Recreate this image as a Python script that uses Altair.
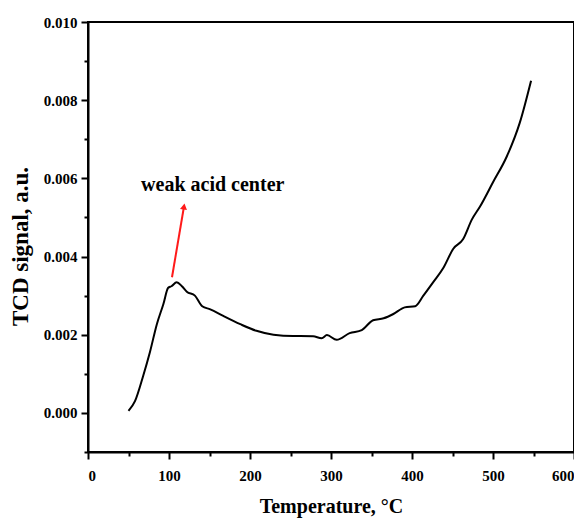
import altair as alt
import pandas as pd

# Curve (Temperature in °C, TCD signal in a.u.)
temps = [50, 58, 68, 76.5, 85, 93, 99, 103, 109.5, 116, 122, 132, 141, 151, 167,
         188, 208, 229, 253, 262, 278, 288.5, 295, 307, 323, 338, 352, 365, 377,
         391, 404, 414, 426, 439, 451, 463, 474, 484, 500, 517, 533, 547]
signal = [0.00005, 0.0003, 0.00094, 0.00156, 0.00227, 0.00278, 0.0032, 0.00324,
          0.00334, 0.00324, 0.0031, 0.003, 0.00273, 0.00265, 0.00248, 0.00227,
          0.0021, 0.002, 0.00197, 0.00197, 0.00196, 0.00191, 0.00199, 0.00187,
          0.00204, 0.00212, 0.00237, 0.00242, 0.00253, 0.0027, 0.00273, 0.003,
          0.00334, 0.00372, 0.0042, 0.00444, 0.00495, 0.00528, 0.0059, 0.00656,
          0.00742, 0.0085]

# Annotation
arrow_T = [103.7, 118.5]
arrow_v = [0.00347, 0.00528]
arrow_angle = [9.6]
label_text = ["weak acid center"]
label_T = [154]
label_v = [0.00584]

# Axis ticks (major + minor)
x_ticks = [0, 50, 100, 150, 200, 250, 300, 350, 400, 450, 500, 550, 600]
y_ticks = [-0.001, 0.0, 0.001, 0.002, 0.003, 0.004, 0.005, 0.006, 0.007,
           0.008, 0.009, 0.010]

curve = pd.DataFrame({"T": temps, "v": signal})
arrow = pd.DataFrame({"T": arrow_T, "v": arrow_v})
head = pd.DataFrame({"T": arrow_T[-1:], "v": arrow_v[-1:], "a": arrow_angle})
label = pd.DataFrame({"T": label_T, "v": label_v, "t": label_text})

FONT = "Liberation Serif"

x_axis = alt.Axis(
    values=x_ticks,
    labelExpr="datum.value % 100 === 0 ? datum.label : ''",
    tickSize={"condition": {"test": "datum.value % 100 === 0", "value": 7}, "value": 4},
    title="Temperature, °C",
    labelPadding=9,
    titlePadding=13,
    titleFontSize=20,
)
y_axis = alt.Axis(
    values=y_ticks,
    format=".3f",
    labelExpr="round(datum.value * 1000) % 2 === 0 ? datum.label : ''",
    tickSize={"condition": {"test": "round(datum.value * 1000) % 2 === 0", "value": 7}, "value": 4},
    title="TCD signal, a.u.",
    labelPadding=4,
    titleX=-56,
    titleY=224,
    titleFontSize=23,
)

x_enc = alt.X("T:Q", scale=alt.Scale(domain=[0, 600], nice=False, zero=False), axis=x_axis)
y_enc = alt.Y("v:Q", scale=alt.Scale(domain=[-0.001, 0.010], nice=False, zero=False), axis=y_axis)

line = alt.Chart(curve).mark_line(color="black", strokeWidth=2, interpolate="monotone").encode(x=x_enc, y=y_enc)
arrow_line = alt.Chart(arrow).mark_line(color="#ff1a1a", strokeWidth=2).encode(x=x_enc, y=y_enc)
arrow_head = alt.Chart(head).mark_point(
    shape="triangle-up", filled=True, color="#ff1a1a", size=50, opacity=1
).encode(x=x_enc, y=y_enc, angle=alt.Angle("a:Q", scale=None))
text = alt.Chart(label).mark_text(
    font=FONT, fontWeight="bold", fontSize=20, color="black"
).encode(x=x_enc, y=y_enc, text="t:N")

chart = alt.layer(line, arrow_line, arrow_head, text).properties(
    width=486,
    height=430,
    autosize="none",
    padding={"left": 80, "top": 14, "right": 0, "bottom": 66},
).configure_view(
    stroke="black", strokeWidth=2
).configure_axis(
    grid=False,
    domainColor="black",
    domainWidth=2,
    tickColor="black",
    tickWidth=2,
    labelFont=FONT,
    labelFontWeight="bold",
    labelFontSize=15,
    labelColor="black",
    titleFont=FONT,
    titleFontWeight="bold",
    titleColor="black",
)

chart.save("out.html", embed_options={"renderer": "svg", "actions": False})
